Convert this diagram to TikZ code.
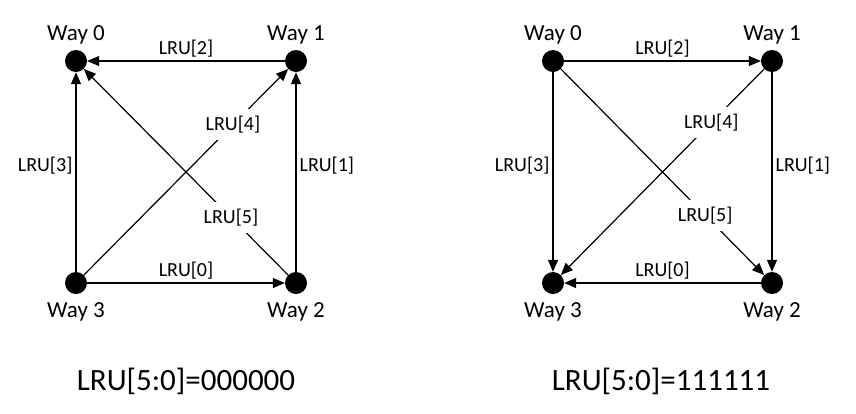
\documentclass[tikz,border=0pt]{standalone}
\usepackage{fontspec}
\setmainfont{Carlito}
\usetikzlibrary{arrows.meta, positioning}
\tikzstyle{way} = [circle, fill=black, minimum size=22pt, inner sep=0pt]
\tikzstyle{waylabel} = [inner sep=0pt, font=\fontsize{23}{27}\selectfont]
\tikzstyle{bit} = [inner sep=3pt, font=\fontsize{20}{24}\selectfont]
\tikzstyle{crossbit} = [bit, fill=white, inner sep=7pt]
\tikzstyle{arrow} = [line width=1.2pt, -{Triangle[length=12pt, width=10pt]}]
\tikzstyle{state} = [anchor=base, inner sep=0pt, font=\fontsize{31}{36}\selectfont]

\begin{document}
\begin{tikzpicture}[x=1pt, y=-1pt]
    \useasboundingbox (0,0) rectangle (856,413);
    % Nodes (all zeros)
    \node (a0) [way] at (76,61) {};
    \node (a1) [way] at (296,61) {};
    \node (a2) [way] at (296,283) {};
    \node (a3) [way] at (76,283) {};
    \node (a0l) [waylabel, above=5pt of a0] {Way 0};
    \node (a1l) [waylabel, above=5pt of a1] {Way 1};
    \node (a2l) [waylabel, below=8pt of a2] {Way 2};
    \node (a3l) [waylabel, below=8pt of a3] {Way 3};
    \node (s0) [state] at (186,390) {LRU[5:0]=000000};

    % Nodes (all ones)
    \node (b0) [way] at (553,61) {};
    \node (b1) [way] at (772,61) {};
    \node (b2) [way] at (772,283) {};
    \node (b3) [way] at (553,283) {};
    \node (b0l) [waylabel, above=5pt of b0] {Way 0};
    \node (b1l) [waylabel, above=5pt of b1] {Way 1};
    \node (b2l) [waylabel, below=8pt of b2] {Way 2};
    \node (b3l) [waylabel, below=8pt of b3] {Way 3};
    \node (s1) [state] at (661,390) {LRU[5:0]=111111};

    % Arrows (all zeros)
    \draw [arrow] (a1) -- node[bit, above] {LRU[2]} (a0);
    \draw [arrow] (a3) -- node[bit, left, pos=0.53] {LRU[3]} (a0);
    \draw [arrow] (a2) -- node[bit, right, pos=0.53] {LRU[1]} (a1);
    \draw [arrow] (a3) -- node[bit, above] {LRU[0]} (a2);
    \draw [arrow] (a3) -- node[crossbit, pos=0.73] {LRU[4]} (a1);
    \draw [arrow] (a2) -- node[crossbit, pos=0.28] {LRU[5]} (a0);

    % Arrows (all ones)
    \draw [arrow] (b0) -- node[bit, above] {LRU[2]} (b1);
    \draw [arrow] (b0) -- node[bit, left, pos=0.47] {LRU[3]} (b3);
    \draw [arrow] (b1) -- node[bit, right, pos=0.47] {LRU[1]} (b2);
    \draw [arrow] (b2) -- node[bit, above] {LRU[0]} (b3);
    \draw [arrow] (b1) -- node[crossbit, pos=0.26] {LRU[4]} (b3);
    \draw [arrow] (b0) -- node[crossbit, pos=0.71] {LRU[5]} (b2);
\end{tikzpicture}
\end{document}
